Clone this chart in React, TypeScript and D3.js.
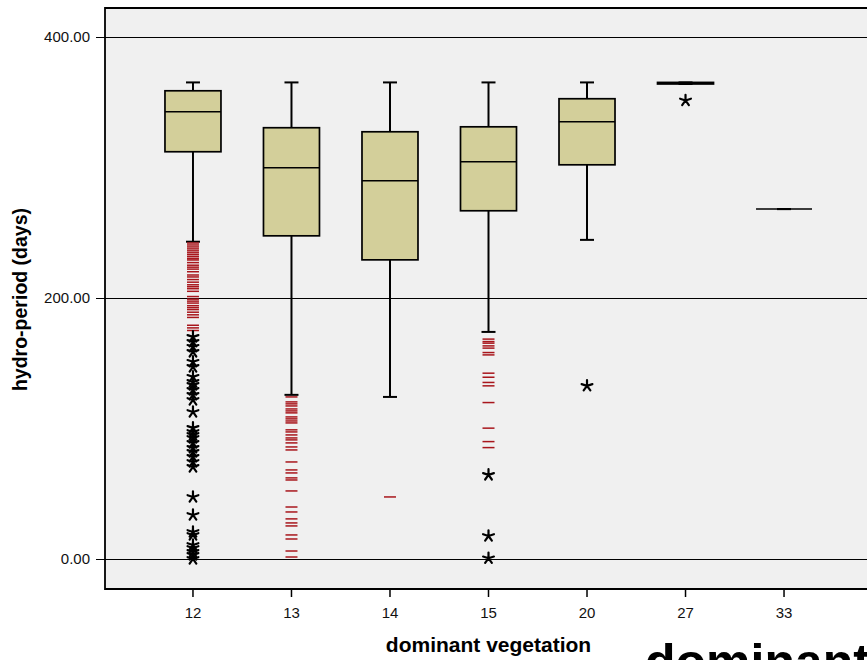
import * as d3 from 'd3';

// hydro-period (days) by dominant vegetation class
const categories = ['12', '13', '14', '15', '20', '27', '33'];
const whiskerHigh = [365, 365, 365, 365, 365, 365, 268];
const q3 = [358.6, 330.3, 327.2, 331, 352.5, 365, 268];
const medians = [342.5, 299.6, 289.7, 304.2, 334.9, 364.5, 268];
const q1 = [311.9, 247.5, 229.1, 266.7, 301.9, 363.8, 268];
const whiskerLow = [243, 125.7, 124.1, 173.9, 244.4, 363.8, 268];

// outliers drawn as red dashes
const outliers12 = [242, 240.5, 239, 237.5, 236, 234.5, 233, 231.5, 230, 229, 227, 225, 223.5, 222, 220,
  217.5, 216, 214, 212, 210, 208.5, 207, 205, 201, 199, 197.5, 196, 194, 192.5, 191, 189, 187, 185, 179, 177, 175];
const outliers13 = [124.1, 120.3, 118.8, 117.2, 114.9, 113.4, 111.9, 108.8, 107.3, 105.7, 104.2, 98.9, 97.3, 95,
  92.7, 91.2, 88.9, 85.8, 83.5, 74.3, 68.2, 65.9, 62.1, 60.5, 52.1, 39.8, 36, 30.7, 27.6, 25.3, 18.4, 15.3, 6.1, 1.5];
const outliers14 = [47.5];
const outliers15 = [168.4, 166.5, 165.3, 163.2, 161.5, 158.1, 156.3, 142.3, 139.2, 135.2, 132.6, 119.8, 100.2, 89.9, 85.3];
const outliers = [outliers12, outliers13, outliers14, outliers15, [], [], []];

// extremes drawn as asterisks
const extremes12 = [170.1, 166.3, 162.5, 158.6, 151, 147.1, 139.5, 135.6, 133.3, 129.5, 125.7, 121.8, 112.6, 100.4,
  97.3, 95, 92.7, 88.9, 85.1, 82, 78.2, 74.3, 70.5, 47.5, 33.7, 20.7, 18.4, 10.7, 8.4, 5.4, 3.1, 0];
const extremes15 = [64.4, 17.6, 0.5];
const extremes20 = [132.6];
const extremes27 = [351.2];
const extremes = [extremes12, [], [], extremes15, extremes20, extremes27, []];

const yTicks = [0, 200, 400];

const W = 867;
const H = 660;
const plot = { left: 105, top: 8, right: 872, bottom: 589 };
const font = '"Liberation Sans", Arial, sans-serif';

// five-armed asterisk like the SPSS extreme marker
const asterisk = {
  draw(ctx: d3.Path, size: number) {
    const r = Math.sqrt(size) / 2;
    for (let i = 0; i < 5; i++) {
      const a = -Math.PI / 2 + (i * 2 * Math.PI) / 5;
      ctx.moveTo(0, 0);
      ctx.lineTo(r * Math.cos(a), r * Math.sin(a));
    }
  },
};
const starPath = d3.symbol().type(asterisk as any).size(130)()!;

export default function App() {
  const x = d3.scalePoint<string>()
    .domain(categories)
    .range([plot.left, plot.right])
    .padding(0.893);
  const y = d3.scaleLinear().domain([-23, 422]).range([plot.bottom, plot.top]);

  const boxW = 56;
  const capW = 14;
  const dashW = 12;
  const cx = (i: number) => x(categories[i])!;

  return (
    <svg width={W} height={H} style={{ position: 'absolute', left: 0, top: 0, background: '#fff' }}>
      {/* plot background */}
      <rect x={plot.left} y={plot.top} width={plot.right - plot.left} height={plot.bottom - plot.top} fill="#f0f0f0" />

      {/* gridlines + y ticks */}
      {yTicks.map(t => (
        <g key={t}>
          <line x1={plot.left - 9} x2={plot.right} y1={Math.round(y(t)) + 0.5} y2={Math.round(y(t)) + 0.5} stroke="#000" strokeWidth={1.2} />
          <text x={plot.left - 15} y={y(t)} dy="0.36em" textAnchor="end" fontFamily={font} fontSize={15} fill="#111">
            {d3.format('.2f')(t)}
          </text>
        </g>
      ))}

      {/* frame */}
      <path
        d={`M${plot.right},${plot.top}H${plot.left}V${plot.bottom}H${plot.right}`}
        fill="none" stroke="#000" strokeWidth={1.8}
      />

      {/* x ticks */}
      {categories.map(c => (
        <g key={c}>
          <line x1={x(c)} x2={x(c)} y1={plot.bottom} y2={plot.bottom + 8} stroke="#000" strokeWidth={1.5} />
          <text x={x(c)} y={plot.bottom + 29} textAnchor="middle" fontFamily={font} fontSize={15} fill="#111">{c}</text>
        </g>
      ))}

      {/* boxes */}
      {categories.map((c, i) => (
        <g key={c}>
          <line x1={cx(i)} x2={cx(i)} y1={y(whiskerHigh[i])} y2={y(q3[i])} stroke="#000" strokeWidth={2} />
          <line x1={cx(i)} x2={cx(i)} y1={y(q1[i])} y2={y(whiskerLow[i])} stroke="#000" strokeWidth={2} />
          <line x1={cx(i) - capW / 2} x2={cx(i) + capW / 2} y1={y(whiskerHigh[i])} y2={y(whiskerHigh[i])} stroke="#000" strokeWidth={2} />
          <line x1={cx(i) - capW / 2} x2={cx(i) + capW / 2} y1={y(whiskerLow[i])} y2={y(whiskerLow[i])} stroke="#000" strokeWidth={2} />
          <rect
            x={cx(i) - boxW / 2} y={y(q3[i])} width={boxW} height={Math.max(0, y(q1[i]) - y(q3[i]))}
            fill="#d3cf9a" stroke="#000" strokeWidth={1.7}
          />
          <line x1={cx(i) - boxW / 2} x2={cx(i) + boxW / 2} y1={y(medians[i])} y2={y(medians[i])} stroke="#000" strokeWidth={1.6} />
        </g>
      ))}

      {/* outliers */}
      {outliers.map((vals, i) => vals.map((v, j) => (
        <line key={`o${i}-${j}`} x1={cx(i) - dashW / 2} x2={cx(i) + dashW / 2} y1={y(v)} y2={y(v)}
          stroke="#a8161c" strokeWidth={1.5} />
      )))}

      {/* extremes */}
      {extremes.map((vals, i) => vals.map((v, j) => (
        <path key={`e${i}-${j}`} d={starPath} transform={`translate(${cx(i)},${y(v)})`}
          fill="none" stroke="#000" strokeWidth={2.2} strokeLinecap="round" />
      )))}

      {/* axis titles */}
      <text x={(plot.left + plot.right) / 2} y={652} textAnchor="middle" fontFamily={font} fontSize={21} fontWeight="bold">
        dominant vegetation
      </text>
      <text transform={`translate(27,${(plot.top + plot.bottom) / 2 + 1}) rotate(-90)`} textAnchor="middle"
        fontFamily={font} fontSize={19.5} fontWeight="bold">
        hydro-period (days)
      </text>
      <text x={645} y={679} fontFamily={font} fontSize={50} fontWeight="bold">dominant</text>
    </svg>
  );
}
